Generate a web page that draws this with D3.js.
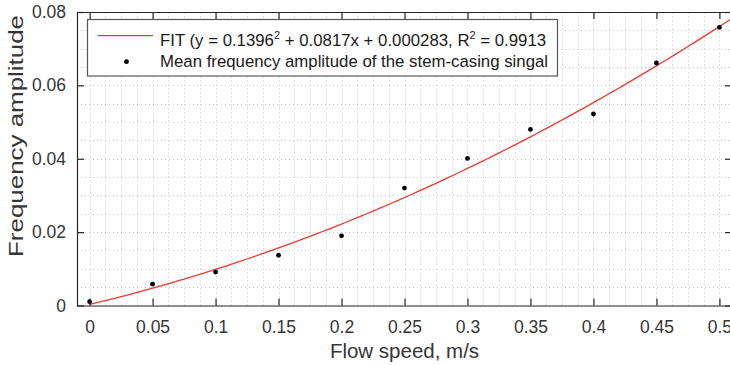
<!DOCTYPE html>
<html>
<head>
<meta charset="utf-8">
<script src="https://cdn.jsdelivr.net/npm/d3@7"></script>
<style>
  body { margin: 0; background: #fff; }
  svg { display: block; font-family: "Liberation Sans", Arial, sans-serif; }
</style>
</head>
<body>
<div id="chart"></div>
<script>
// donnees
const flowSpeed = [0, 0.05, 0.1, 0.15, 0.2, 0.25, 0.3, 0.35, 0.4, 0.45, 0.5];
const amplitude = [0.00104, 0.0058, 0.0091, 0.0137, 0.0190, 0.0320, 0.0401, 0.0480, 0.0522, 0.0661, 0.0758];
// coefficients du fit (a x^2 + b x + c)
const fitCoef = [0.1396, 0.0817, 0.000283];
const fitRange = [0, 0.51];

const xTicks = [0, 0.05, 0.1, 0.15, 0.2, 0.25, 0.3, 0.35, 0.4, 0.45, 0.5];
const xTickLabels = ["0", "0.05", "0.1", "0.15", "0.2", "0.25", "0.3", "0.35", "0.4", "0.45", "0.5"];
const yTicks = [0, 0.02, 0.04, 0.06, 0.08];
const yTickLabels = ["0", "0.02", "0.04", "0.06", "0.08"];
const xMinor = d3.range(0, 0.51, 0.0125);
const yMinor = d3.range(0, 0.0801, 0.005);

const width = 730, height = 365;
const margin = { top: 12, right: -2, bottom: 59.5, left: 77 };
const axisColor = "#262626";
const textColor = "#363636";

const svg = d3.select("#chart").append("svg")
    .attr("width", width)
    .attr("height", height);

const x = d3.scaleLinear()
    .domain([-0.01, 0.51])
    .range([margin.left, width - margin.right]);

const y = d3.scaleLinear()
    .domain([0, 0.08])
    .range([height - margin.bottom, margin.top]);

// grille (pointilles)
const grid = svg.append("g")
    .attr("stroke", "#c4c4c4")
    .attr("stroke-width", 1)
    .attr("stroke-dasharray", "1,3");

grid.selectAll(".gx")
    .data(xMinor)
    .join("line")
    .attr("x1", d => Math.round(x(d)) + 0.5)
    .attr("x2", d => Math.round(x(d)) + 0.5)
    .attr("y1", y(0))
    .attr("y2", y(0.08));

grid.selectAll(".gy")
    .data(yMinor)
    .join("line")
    .attr("y1", d => Math.round(y(d)) + 0.5)
    .attr("y2", d => Math.round(y(d)) + 0.5)
    .attr("x1", x(-0.01))
    .attr("x2", x(0.51));

// courbe du fit
const fitX = d3.range(fitRange[0], fitRange[1] + 0.0001, 0.005);
const line = d3.line()
    .x(d => x(d))
    .y(d => y(fitCoef[0] * d * d + fitCoef[1] * d + fitCoef[2]));

svg.append("path")
    .datum(fitX)
    .attr("fill", "none")
    .attr("stroke", "#ea3a2e")
    .attr("stroke-width", 1.3)
    .attr("d", line);

// points de mesure
svg.append("g")
    .selectAll("circle")
    .data(flowSpeed)
    .join("circle")
    .attr("cx", d => x(d))
    .attr("cy", (d, i) => y(amplitude[i]))
    .attr("r", 2.4)
    .attr("fill", "#000");

// axes
const tickFmtX = (d, i) => xTickLabels[i];
const tickFmtY = (d, i) => yTickLabels[i];

const gx = svg.append("g")
    .attr("transform", `translate(0,${y(0)})`)
    .call(d3.axisBottom(x).tickValues(xTicks).tickFormat(tickFmtX).tickSizeInner(-7).tickSizeOuter(0).tickPadding(15));

const gxTop = svg.append("g")
    .attr("transform", `translate(0,${y(0.08)})`)
    .call(d3.axisTop(x).tickValues(xTicks).tickFormat("").tickSizeInner(-7).tickSizeOuter(0));

const gy = svg.append("g")
    .attr("transform", `translate(${x(-0.01)},0)`)
    .call(d3.axisLeft(y).tickValues(yTicks).tickFormat(tickFmtY).tickSizeInner(-7).tickSizeOuter(0).tickPadding(11));

const gyRight = svg.append("g")
    .attr("transform", `translate(${x(0.51)},0)`)
    .call(d3.axisRight(y).tickValues(yTicks).tickFormat("").tickSizeInner(-7).tickSizeOuter(0));

[gx, gxTop, gy, gyRight].forEach(g => {
    g.select(".domain").attr("stroke", axisColor).attr("stroke-width", 1.2);
    g.selectAll(".tick line").attr("stroke", axisColor).attr("stroke-width", 1.2);
    g.selectAll(".tick text")
        .attr("fill", textColor)
        .style("font-size", "17.5px")
        .style("font-family", "Liberation Sans, Arial, sans-serif");
});

// titres des axes
svg.append("text")
    .attr("x", (x(-0.01) + x(0.51)) / 2)
    .attr("y", 358)
    .attr("text-anchor", "middle")
    .attr("fill", textColor)
    .style("font-size", "20.5px")
    .text("Flow speed, m/s");

svg.append("text")
    .attr("transform", "translate(23,136) rotate(-90)")
    .attr("text-anchor", "middle")
    .attr("fill", textColor)
    .style("font-size", "21px")
    .attr("textLength", 242)
    .attr("lengthAdjust", "spacingAndGlyphs")
    .text("Frequency amplitude");

// legende
const legend = svg.append("g");

legend.append("rect")
    .attr("x", 87.5)
    .attr("y", 19.5)
    .attr("width", 470)
    .attr("height", 56.5)
    .attr("fill", "#fff")
    .attr("stroke", "#555")
    .attr("stroke-width", 1.2);

legend.append("line")
    .attr("x1", 98).attr("x2", 153)
    .attr("y1", 35.7).attr("y2", 35.7)
    .attr("stroke", "#ea3a2e")
    .attr("stroke-width", 1.3);

legend.append("circle")
    .attr("cx", 126.5).attr("cy", 61.7)
    .attr("r", 2.4)
    .attr("fill", "#000");

const t1 = legend.append("text")
    .attr("x", 160)
    .attr("y", 45.5)
    .attr("fill", "#1a1a1a")
    .style("font-size", "16.8px");
t1.append("tspan").text("FIT (y = 0.1396");
t1.append("tspan").attr("dy", -7).style("font-size", "11px").text("2");
t1.append("tspan").attr("dy", 7).text(" + 0.0817x + 0.000283, R");
t1.append("tspan").attr("dy", -7).style("font-size", "11px").text("2");
t1.append("tspan").attr("dy", 7).text(" = 0.9913");

legend.append("text")
    .attr("x", 160)
    .attr("y", 66.5)
    .attr("fill", "#1a1a1a")
    .style("font-size", "16.8px")
    .text("Mean frequency amplitude of the stem-casing singal");
</script>
</body>
</html>
